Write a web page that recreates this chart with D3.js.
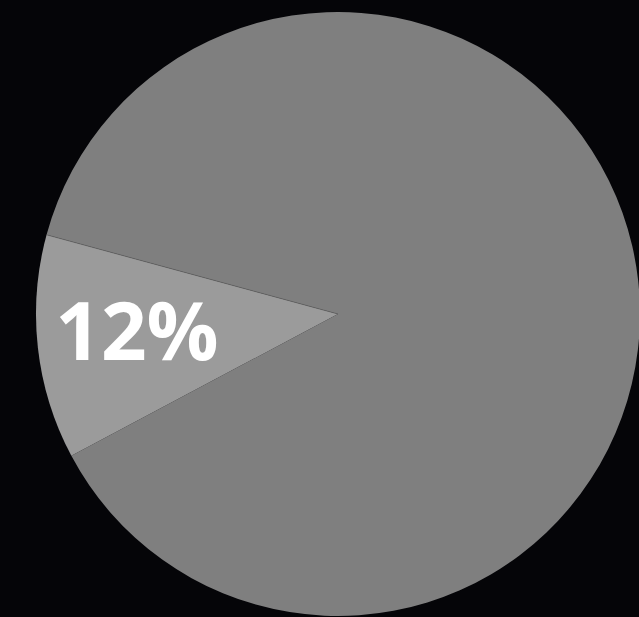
<!DOCTYPE html>
<html>
<head>
<meta charset="utf-8">
<script src="https://cdn.jsdelivr.net/npm/d3@7"></script>
<style>
  html, body { margin: 0; padding: 0; background: #050508; }
  svg { display: block; }
</style>
</head>
<body>
<div id="chart"></div>
<script>
// slice data
var categories = ["Other", "Share"];
var values = [88, 12];
var colors = ["#7f7f7f", "#9b9b9b"];
var labels = ["", "12%"];

var width = 639, height = 617;
var cx = 338, cy = 314, radius = 302;

var svg = d3.select("#chart").append("svg")
    .attr("width", width)
    .attr("height", height);

svg.append("rect")
    .attr("width", width)
    .attr("height", height)
    .attr("fill", "#050508");

var g = svg.append("g")
    .attr("transform", "translate(" + cx + "," + cy + ")");

// rotated so the small slice sits on the left side
var pie = d3.pie()
    .sort(null)
    .startAngle(-74.8 * Math.PI / 180)
    .endAngle((360 - 74.8) * Math.PI / 180);

var arcs = pie(values);

var arc = d3.arc().innerRadius(0).outerRadius(radius);

g.selectAll("path.slice")
    .data(arcs)
  .enter().append("path")
    .attr("class", "slice")
    .attr("d", arc)
    .attr("fill", function(d, i) { return colors[i]; });

// thin seam on the upper edge of the small slice
var small = arcs[1];
var p = d3.pointRadial(small.endAngle, radius);
g.append("line")
    .attr("x1", 0).attr("y1", 0)
    .attr("x2", p[0]).attr("y2", p[1])
    .attr("stroke", "#5a5a5a")
    .attr("stroke-width", 0.6);

var labelArc = d3.arc().innerRadius(radius * 0.67).outerRadius(radius * 0.67);

g.selectAll("text.label")
    .data(arcs)
  .enter().append("text")
    .attr("class", "label")
    .attr("transform", function(d) {
        var c = labelArc.centroid(d);
        return "translate(" + c[0] + "," + c[1] + ")";
    })
    .attr("dy", "0.29em")
    .attr("text-anchor", "middle")
    .attr("fill", "#ffffff")
    .style("font-family", "'Open Sans', sans-serif")
    .style("font-weight", "bold")
    .style("font-size", "80px")
    .text(function(d, i) { return labels[i]; });
</script>
</body>
</html>
